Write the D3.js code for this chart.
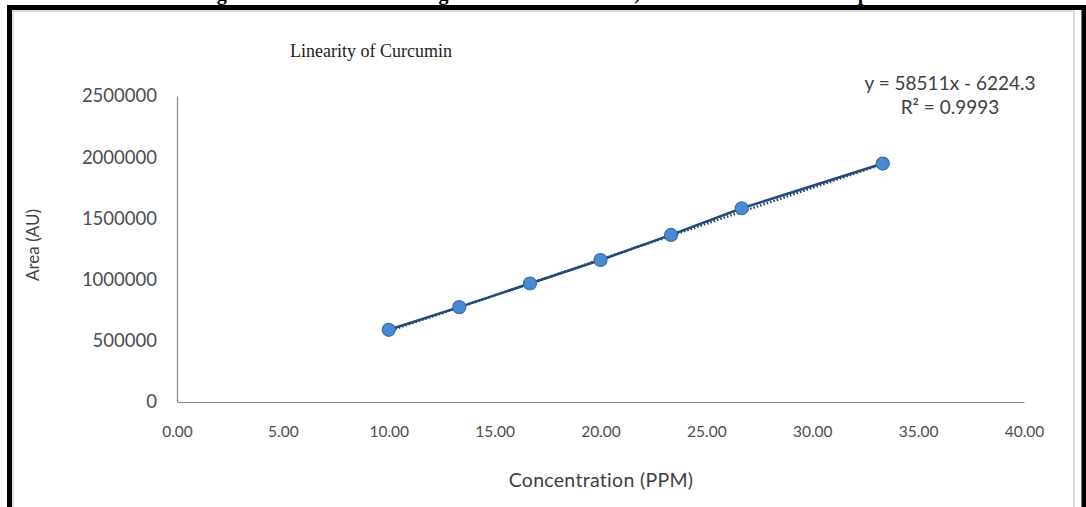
<!DOCTYPE html>
<html>
<head>
<meta charset="utf-8">
<script src="https://cdn.jsdelivr.net/npm/d3@7"></script>
<style>
body { margin: 0; background: #fff; }
svg { display: block; }
</style>
</head>
<body>
<div id="chart"></div>
<script>
const width = 1086,
height = 507,
margin = { top: 96, bottom: 105, left: 177, right: 62 };

// data
const concentration = [10.0, 13.33, 16.67, 20.0, 23.33, 26.67, 33.33];
const area = [590000, 775000, 968000, 1160000, 1365000, 1583000, 1948000];
const xTicks = [0, 5, 10, 15, 20, 25, 30, 35, 40];
const yTicks = [0, 500000, 1000000, 1500000, 2000000, 2500000];
const slope = 58511, intercept = -6224.3;

const data = concentration.map((c, i) => ({ x: c, y: area[i] }));

const svg = d3.select("#chart")
  .append("svg")
  .attr("width", width)
  .attr("height", height);

// figure caption, cut off by the top edge as in the source
const caption = svg.append("text")
  .attr("y", 0)
  .style("font-family", "Liberation Serif, serif")
  .style("font-weight", "bold")
  .style("font-size", "20px");
[["Figure 5:", 199], ["Calibration", 290], ["Range of", 403], ["Curcumin,", 547], ["Intercept", 797]]
  .forEach(([t, x]) => caption.append("tspan").attr("x", x).text(t));

// outer black frame
svg.append("path")
  .attr("d", `M9.5,${height} V7.5 H1084 V${height}`)
  .attr("fill", "none")
  .attr("stroke", "#000")
  .attr("stroke-width", 5);
svg.append("line")
  .attr("x1", 1084.5).attr("x2", 1084.5)
  .attr("y1", 5).attr("y2", height)
  .attr("stroke", "#000").attr("stroke-width", 2);

// chart area border
svg.append("path")
  .attr("d", `M13,${height} V11 H1074 V${height}`)
  .attr("fill", "#fff")
  .attr("stroke", "#d0d0d0")
  .attr("stroke-width", 1.5);

const xScale = d3.scaleLinear()
  .domain([0, 40])
  .range([margin.left, width - margin.right]);

const yScale = d3.scaleLinear()
  .domain([0, 2500000])
  .range([height - margin.bottom, margin.top]);

const xAxis = d3.axisBottom(xScale)
  .tickValues(xTicks)
  .tickFormat(d3.format(".2f"))
  .tickSize(0)
  .tickPadding(24);

const yAxis = d3.axisLeft(yScale)
  .tickValues(yTicks)
  .tickFormat(d => d)
  .tickSize(0)
  .tickPadding(20);

const gx = svg.append("g")
  .attr("transform", `translate(0, ${height - margin.bottom})`)
  .call(xAxis);

const gy = svg.append("g")
  .attr("transform", `translate(${margin.left}, 0)`)
  .call(yAxis);

[gx, gy].forEach(g => {
  g.select(".domain").attr("stroke", "#878787").attr("stroke-width", 1.2);
  g.selectAll("text")
    .style("font-family", "Lato, sans-serif")
    .attr("fill", "#4d4d4d");
});
gx.selectAll("text").style("font-size", "15.5px");
gy.selectAll("text").style("font-size", "18.5px");

// axis titles
svg.append("text")
  .attr("x", 601)
  .attr("y", 487)
  .attr("text-anchor", "middle")
  .style("font-family", "Lato, sans-serif")
  .style("font-size", "19.5px")
  .style("letter-spacing", "0.3px")
  .attr("fill", "#404040")
  .text("Concentration (PPM)");

svg.append("text")
  .attr("transform", `translate(39, 245) rotate(-90)`)
  .attr("text-anchor", "middle")
  .style("font-family", "Lato, sans-serif")
  .style("font-size", "17px")
  .attr("fill", "#404040")
  .text("Area (AU)");

// chart title
svg.append("text")
  .attr("x", 290)
  .attr("y", 57)
  .style("font-family", "Liberation Serif, serif")
  .style("font-size", "18px")
  .attr("fill", "#222")
  .text("Linearity of Curcumin");

// trendline (dotted)
const xMin = d3.min(concentration), xMax = d3.max(concentration);
svg.append("line")
  .attr("x1", xScale(xMin))
  .attr("y1", yScale(slope * xMin + intercept))
  .attr("x2", xScale(xMax))
  .attr("y2", yScale(slope * xMax + intercept))
  .attr("stroke", "#1f3f66")
  .attr("stroke-width", 2.5)
  .attr("stroke-dasharray", "1.5,2");

// series line
const line = d3.line()
  .x(d => xScale(d.x))
  .y(d => yScale(d.y));

svg.append("path")
  .datum(data)
  .attr("d", line)
  .attr("fill", "none")
  .attr("stroke", "#234a78")
  .attr("stroke-width", 2.5);

svg.selectAll("circle.pt")
  .data(data)
  .join("circle")
  .attr("class", "pt")
  .attr("cx", d => xScale(d.x))
  .attr("cy", d => yScale(d.y))
  .attr("r", 6.5)
  .attr("fill", "#4a8ad2")
  .attr("stroke", "#3a6ea8")
  .attr("stroke-width", 1.2);

// equation label
const eq = svg.append("text")
  .attr("text-anchor", "middle")
  .style("font-family", "Lato, sans-serif")
  .style("font-size", "19px")
  .attr("fill", "#404040");
eq.append("tspan")
  .attr("x", 950).attr("y", 90)
  .text(`y = ${slope}x - ${Math.abs(intercept)}`);
eq.append("tspan")
  .attr("x", 950).attr("y", 114)
  .text("R² = 0.9993");
</script>
</body>
</html>
